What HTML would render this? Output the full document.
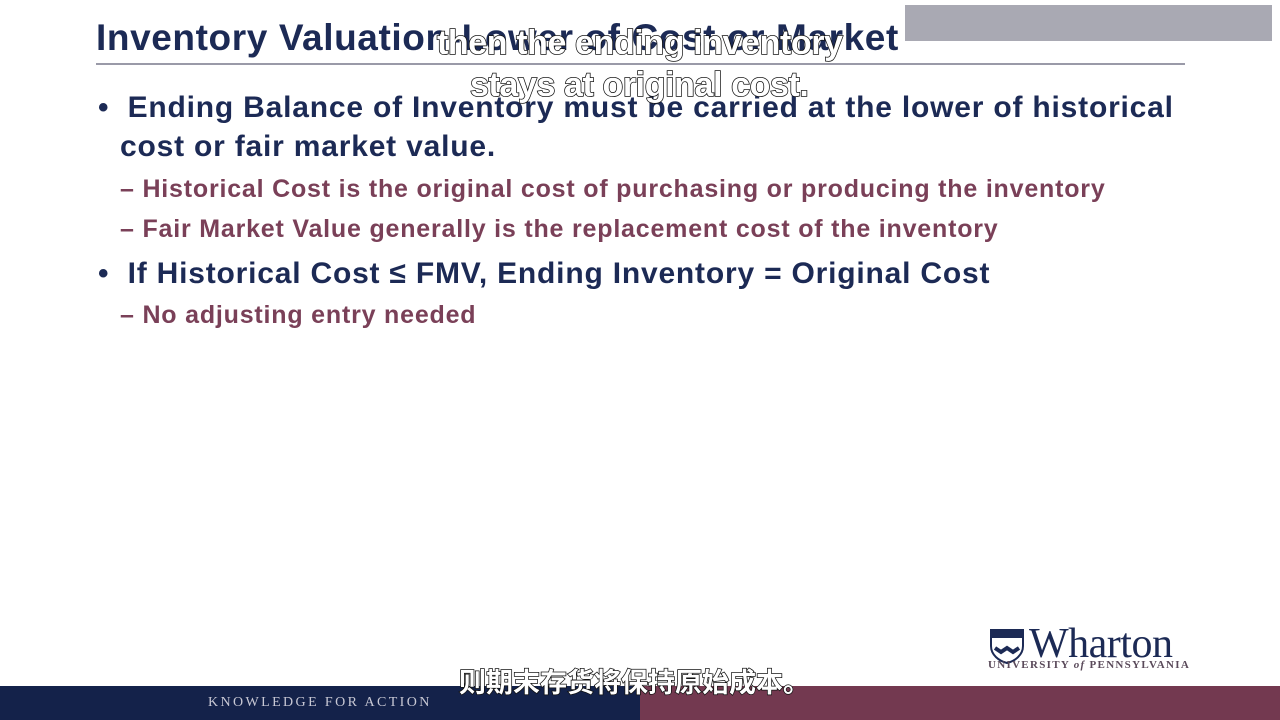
<!DOCTYPE html>
<html><head><meta charset="utf-8"><style>
body{margin:0;width:1280px;height:720px;overflow:hidden;background:#fff;position:relative;font-family:"Liberation Sans","Noto Sans CJK SC",sans-serif}
.a{position:absolute;white-space:nowrap}
.t{font-weight:bold;color:#1c2a55}
.l1{font-size:30px;letter-spacing:0.8px;font-weight:bold;color:#1c2a55}
.l2{font-size:25px;letter-spacing:0.8px;font-weight:bold;color:#7a4058}
.sub{font-weight:bold;color:#fff;-webkit-text-stroke:1.5px #111;paint-order:stroke fill;font-size:34px;letter-spacing:-0.4px}
</style></head><body>
<div class="a" style="left:905px;top:5px;width:367px;height:36px;background:#a9a9b3"></div>
<div class="a t" style="left:96px;top:17px;font-size:37px;letter-spacing:0.6px">Inventory Valuation-Lower of Cost or Market</div>
<div class="a" style="left:96px;top:63px;width:1089px;height:2px;background:#9a9aa8"></div>
<div class="a l1" style="left:98px;top:91px">•&nbsp; Ending Balance of Inventory must be carried at the lower of historical</div>
<div class="a l1" style="left:120px;top:130px">cost or fair market value.</div>
<div class="a l2" style="left:120px;top:175px">– Historical Cost is the original cost of purchasing or producing the inventory</div>
<div class="a l2" style="left:120px;top:215px">– Fair Market Value generally is the replacement cost of the inventory</div>
<div class="a l1" style="left:98px;top:257px">•&nbsp; If Historical Cost ≤ FMV, Ending Inventory = Original Cost</div>
<div class="a l2" style="left:120px;top:301px">– No adjusting entry needed</div>
<div class="a sub" style="left:437px;top:24px">then the ending inventory</div>
<div class="a sub" style="left:470px;top:66px">stays at original cost.</div>
<div class="a" style="left:988px;top:628px">
<svg width="38" height="36" viewBox="0 0 36 36" style="position:absolute;left:0;top:0"><path d="M2 2h32v16c0 9-8 15-16 17C10 33 2 27 2 18z" fill="#fff" stroke="#1c2a55" stroke-width="2"/><rect x="3" y="3" width="30" height="7" fill="#1c2a55"/><path d="M6 20l6 4 6-4 6 4 6-4" stroke="#1c2a55" stroke-width="4" fill="none"/></svg>
<div class="a" style="left:41px;top:-8px;font-family:'Liberation Serif',serif;font-size:42px;color:#1c2a55;letter-spacing:-0.5px">Wharton</div>
<div class="a" style="left:0;top:31px;font-family:'Liberation Serif',serif;font-size:11px;letter-spacing:1.3px;color:#5a4a5a;font-weight:bold">UNIVERSITY <i>of</i> PENNSYLVANIA</div>
</div>
<div class="a" style="left:0;top:686px;width:640px;height:34px;background:#14224a"></div>
<div class="a" style="left:640px;top:686px;width:640px;height:34px;background:#733950"></div>
<div class="a" style="left:208px;top:695px;font-family:'Liberation Serif',serif;font-size:14px;letter-spacing:2.4px;color:#c8c8d4">KNOWLEDGE FOR ACTION</div>
<div class="a sub" style="left:459px;top:661px;font-size:27px;letter-spacing:0">则期末存货将保持原始成本。</div>
</body></html>
